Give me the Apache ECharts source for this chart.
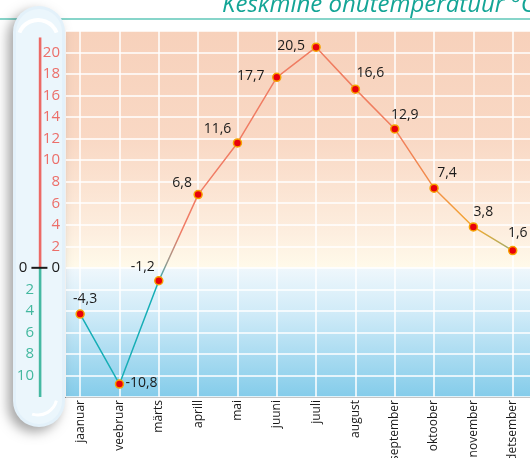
<!DOCTYPE html>
<html><head><meta charset="utf-8">
<script src="https://cdn.jsdelivr.net/npm/echarts@6/dist/echarts.min.js"></script>
<style>html,body{margin:0;padding:0;background:#fff}#c{width:530px;height:458px}</style>
</head><body><div id="c"></div>
<script>
// ---- data ----
const months = ['jaanuar','veebruar','märts','aprill','mai','juuni','juuli','august','september','oktoober','november','detsember'];
const temps = [-4.3, -10.8, -1.2, 6.8, 11.6, 17.7, 20.5, 16.6, 12.9, 7.4, 3.8, 1.6];
const yMin = -12, yMax = 22, yStep = 2;
const titleText = 'Keskmine õhutemperatuur °C';
// ---- style ----
const labelOffsets = [[5,-15],[22,-1],[-16,-14],[-16,-12],[-20,-14],[-26,-1],[-25,-1],[15,-16],[10,-14],[13,-15],[10,-15],[5,-18]];
const FONT = 'Open Sans';

const points = temps.map((v, i) => [i, v]);
const monthIdx = months.map((m, i) => i);
const chart = echarts.init(document.getElementById('c'), null, {renderer: 'canvas'});

const upGrad = new echarts.graphic.LinearGradient(0, 0, 0, 1, [
  {offset: 0, color: '#f7d1bb'}, {offset: 0.45, color: '#f9d8c4'},
  {offset: 0.85, color: '#fdeedf'}, {offset: 1, color: '#fffaea'}]);
const downGrad = new echarts.graphic.LinearGradient(0, 0, 0, 1, [
  {offset: 0, color: '#eff7fc'}, {offset: 0.35, color: '#d0ebf8'},
  {offset: 1, color: '#84ccea'}]);
const lineGrad = new echarts.graphic.LinearGradient(0, 0, 1, 0, [
  {offset: 0, color: '#17aeb6'}, {offset: 2/11, color: '#17aeb6'},
  {offset: 2.25/11, color: '#9c9a8e'}, {offset: 2.6/11, color: '#f07c66'},
  {offset: 8/11, color: '#f07d5e'}, {offset: 9/11, color: '#f29048'},
  {offset: 10/11, color: '#f4aa30'}, {offset: 1, color: '#98ad70'}]);

chart.setOption({
  animation: false,
  grid: {left: 66, right: 0, top: 31, bottom: 61, containLabel: false, outerBoundsMode: 'none'},
  xAxis: {
    type: 'value', min: -0.36, max: 11.44, z: 1,
    axisLine: {show: true, onZero: false, lineStyle: {color: '#1a1a1a', width: 1.2}},
    axisTick: {show: false, customValues: monthIdx},
    axisLabel: {customValues: monthIdx, rotate: 90, margin: 3,
      fontSize: 12, fontFamily: FONT, color: '#1a1a1a',
      formatter: v => months[Math.round(v)] || ''},
    splitLine: {show: false}
  },
  yAxis: {
    type: 'value', min: yMin, max: yMax, interval: yStep, z: 5,
    axisLine: {show: false}, axisTick: {show: false},
    splitLine: {show: true, lineStyle: {color: '#ffffff', width: 1.5}},
    axisLabel: {
      margin: 6, fontSize: 15, fontFamily: FONT, color: '#1a1a1a',
      formatter: v => {
        if (v === 0) return '0{s|}{d|}{s|}0';
        if (v > 0 && v < yMax) return '{p|' + v + '}';
        if (v < 0 && v > yMin) return '{n|' + (-v) + '}';
        return '';
      },
      rich: {
        p: {color: '#ec6f6a', fontSize: 15, fontFamily: FONT},
        n: {color: '#43b89f', fontSize: 15, fontFamily: FONT, padding: [0, 26, 0, 0]},
        s: {width: 4, height: 2, lineHeight: 2},
        d: {width: 16, height: 2, backgroundColor: '#1a1a1a', padding: 0, lineHeight: 2}
      }
    }
  },
  series: [
    {
      type: 'line', data: points, z: 0, silent: true, symbol: 'none',
      lineStyle: {opacity: 0},
      markArea: {silent: true, data: [
        [{yAxis: 0, itemStyle: {color: upGrad, opacity: 1}}, {yAxis: yMax}],
        [{yAxis: yMin, itemStyle: {color: downGrad, opacity: 1}}, {yAxis: 0}]
      ]}
    },
    {
      type: 'line', data: points, z: 2, silent: true, symbol: 'none',
      lineStyle: {opacity: 0},
      markLine: {silent: true, symbol: 'none', label: {show: false},
        lineStyle: {color: '#ffffff', width: 1.5, type: 'solid', opacity: 1},
        emphasis: {disabled: true},
        data: monthIdx.map(i => ({xAxis: i}))}
    },
    {
      type: 'line', data: points, z: 10,
      symbol: 'circle', symbolSize: 8,
      itemStyle: {color: '#e8000c', borderColor: '#f6a300', borderWidth: 1.5},
      lineStyle: {color: lineGrad, width: 1.5},
      label: {
        show: true, position: 'inside', fontSize: 14, fontFamily: FONT, color: '#1a1a1a',
        formatter: p => String(p.value[1]).replace('.', ',')
      },
      labelLayout: p => ({dx: labelOffsets[p.dataIndex][0], dy: labelOffsets[p.dataIndex][1]})
    }
  ]
});

const px = v => chart.convertToPixel({yAxisIndex: 0}, v);
const y0 = px(0), yTop = px(21.4), yBot = px(yMin);
chart.setOption({
  graphic: [
    {type: 'line', z: 0, shape: {x1: 0, y1: 19, x2: 530, y2: 19}, style: {stroke: '#5fc7b9', lineWidth: 1.6}},
    {type: 'text', z: 0, style: {x: 222, y: 5, text: titleText, fill: '#14a596',
      font: 'italic 24px "Open Sans"', verticalAlign: 'middle', align: 'left'}},
    {type: 'rect', z: 1, shape: {x: 13, y: 6, width: 52, height: 421, r: 26},
      style: {fill: '#e3f1fa', shadowBlur: 12, shadowColor: 'rgba(0,0,0,0.35)', shadowOffsetX: -5, shadowOffsetY: 5}},
    {type: 'rect', z: 1, shape: {x: 16, y: 9, width: 46, height: 415, r: 23},
      style: {fill: '#ebf6fc'}},
    {type: 'arc', z: 2, shape: {cx: 38, cy: 40, r: 20, startAngle: Math.PI * 1.12, endAngle: Math.PI * 1.88},
      style: {stroke: '#ffffff', lineWidth: 4, fill: null}},
    {type: 'arc', z: 2, shape: {cx: 38, cy: 396, r: 19, startAngle: Math.PI * 0.08, endAngle: Math.PI * 0.6},
      style: {stroke: '#ffffff', lineWidth: 3, fill: null}},
    {type: 'rect', z: 3, shape: {x: 38.8, y: yTop, width: 2.6, height: y0 - yTop}, style: {fill: '#ec6a66'}},
    {type: 'rect', z: 3, shape: {x: 38.8, y: y0, width: 2.6, height: yBot - y0}, style: {fill: '#45b9a2'}}
  ]
});
</script>
</body></html>
